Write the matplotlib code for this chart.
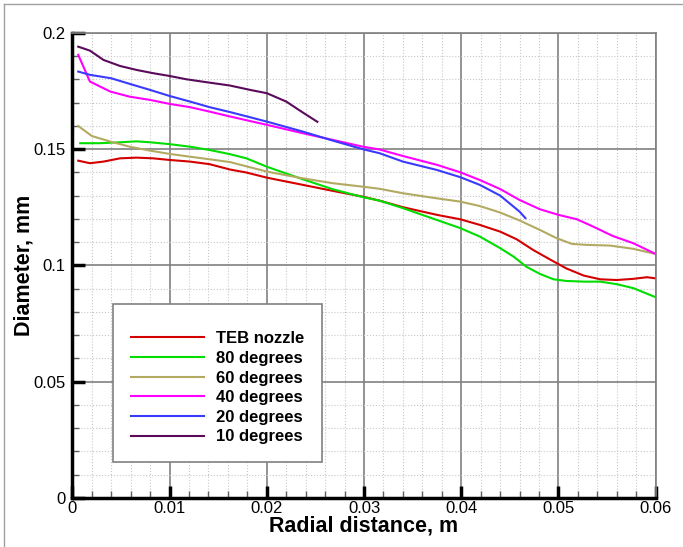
import matplotlib.pyplot as plt
import numpy as np
from matplotlib.lines import Line2D

plt.rcParams['font.family'] = ['Liberation Sans', 'DejaVu Sans']

# TEB nozzle
x_teb = [0.0006, 0.0018, 0.0032, 0.0049, 0.0066, 0.0083, 0.0100, 0.0121, 0.0141, 0.0162,
         0.0179, 0.0200, 0.0237, 0.0268, 0.0299, 0.0316, 0.0340, 0.0375, 0.0399, 0.0419,
         0.0440, 0.0457, 0.0474, 0.0491, 0.0508, 0.0526, 0.0543, 0.0560, 0.0577, 0.0591, 0.0600]
y_teb = [0.1450, 0.1439, 0.1446, 0.1460, 0.1463, 0.1460, 0.1453, 0.1446, 0.1435, 0.1412,
         0.1399, 0.1377, 0.1346, 0.1320, 0.1295, 0.1278, 0.1250, 0.1217, 0.1198, 0.1174,
         0.1145, 0.1112, 0.1066, 0.1026, 0.0987, 0.0956, 0.0940, 0.0937, 0.0942, 0.0949, 0.0944]

# 80 degrees
x_80 = [0.0008, 0.0028, 0.0049, 0.0066, 0.0080, 0.0100, 0.0121, 0.0141, 0.0162, 0.0179,
        0.0200, 0.0237, 0.0268, 0.0299, 0.0316, 0.0340, 0.0375, 0.0399, 0.0419, 0.0440,
        0.0454, 0.0467, 0.0481, 0.0495, 0.0508, 0.0526, 0.0543, 0.0560, 0.0577, 0.0600]
y_80 = [0.1525, 0.1525, 0.1529, 0.1533, 0.1529, 0.1521, 0.1510, 0.1496, 0.1478, 0.1460,
        0.1424, 0.1370, 0.1327, 0.1293, 0.1278, 0.1246, 0.1195, 0.1160, 0.1124, 0.1074,
        0.1037, 0.0994, 0.0963, 0.0940, 0.0933, 0.0930, 0.0930, 0.0919, 0.0902, 0.0863]

# 60 degrees
x_60 = [0.0006, 0.0020, 0.0039, 0.0059, 0.0080, 0.0100, 0.0121, 0.0141, 0.0162, 0.0200,
        0.0237, 0.0268, 0.0299, 0.0316, 0.0340, 0.0375, 0.0399, 0.0419, 0.0440, 0.0460,
        0.0481, 0.0498, 0.0514, 0.0529, 0.0553, 0.0577, 0.0600]
y_60 = [0.1599, 0.1556, 0.1532, 0.1510, 0.1493, 0.1479, 0.1467, 0.1456, 0.1444, 0.1403,
        0.1374, 0.1353, 0.1338, 0.1329, 0.1310, 0.1288, 0.1274, 0.1255, 0.1227, 0.1193,
        0.1152, 0.1117, 0.1092, 0.1088, 0.1085, 0.1071, 0.1049]

# 40 degrees
x_40 = [0.0006, 0.0018, 0.0039, 0.0059, 0.0080, 0.0100, 0.0121, 0.0141, 0.0162, 0.0200,
        0.0237, 0.0268, 0.0299, 0.0316, 0.0340, 0.0375, 0.0399, 0.0419, 0.0440, 0.0460,
        0.0481, 0.0500, 0.0519, 0.0536, 0.0556, 0.0577, 0.0600]
y_40 = [0.1905, 0.1790, 0.1747, 0.1725, 0.1711, 0.1694, 0.1680, 0.1661, 0.1640, 0.1604,
        0.1568, 0.1539, 0.1510, 0.1498, 0.1470, 0.1432, 0.1400, 0.1367, 0.1328, 0.1281,
        0.1241, 0.1217, 0.1198, 0.1166, 0.1126, 0.1095, 0.1049]

# 20 degrees
x_20 = [0.0006, 0.0018, 0.0040, 0.0059, 0.0080, 0.0100, 0.0121, 0.0141, 0.0162, 0.0200,
        0.0237, 0.0268, 0.0299, 0.0316, 0.0340, 0.0375, 0.0399, 0.0419, 0.0440, 0.0460, 0.0466]
y_20 = [0.1833, 0.1819, 0.1804, 0.1780, 0.1754, 0.1728, 0.1704, 0.1680, 0.1659, 0.1618,
        0.1575, 0.1536, 0.1499, 0.1482, 0.1446, 0.1410, 0.1379, 0.1346, 0.1300, 0.1231, 0.1203]

# 10 degrees
x_10 = [0.0006, 0.0018, 0.0032, 0.0049, 0.0066, 0.0083, 0.0100, 0.0117, 0.0135, 0.0162,
        0.0183, 0.0200, 0.0220, 0.0237, 0.0252]
y_10 = [0.1940, 0.1923, 0.1883, 0.1857, 0.1840, 0.1826, 0.1814, 0.1800, 0.1789, 0.1773,
        0.1754, 0.1740, 0.1704, 0.1657, 0.1617]

labels = ['TEB nozzle', '80 degrees', '60 degrees', '40 degrees', '20 degrees', '10 degrees']
colors = ['#d40000', '#00dd00', '#b3aa62', '#ff00ff', '#3a3aff', '#5a0a5a']

fig = plt.figure(figsize=(6.83, 5.47), dpi=100)
ax = fig.add_axes([0.106, 0.0896, 0.854, 0.8506])

series = [(x_teb, y_teb), (x_80, y_80), (x_60, y_60), (x_40, y_40), (x_20, y_20), (x_10, y_10)]
for (xs, ys), lab, c in zip(series, labels, colors):
    ax.plot(xs, ys, color=c, lw=1.5, label=lab)

ax.set_xlim(0, 0.06)
ax.set_ylim(0, 0.2)
ax.set_xticks(np.arange(0, 0.061, 0.01))
ax.set_yticks(np.arange(0, 0.201, 0.05))
ax.set_xticks(np.arange(0, 0.0601, 0.002), minor=True)
ax.set_yticks(np.arange(0, 0.2001, 0.01), minor=True)
ax.set_xticklabels(['0', '0.01', '0.02', '0.03', '0.04', '0.05', '0.06'])
ax.set_yticklabels(['0', '0.05', '0.1', '0.15', '0.2'])

ax.grid(True, which='major', color='#808080', lw=1.2, ls='-')
ax.grid(True, which='minor', color='#c8c8c8', lw=0.8, ls=':')
ax.set_axisbelow(True)

ax.tick_params(which='major', direction='in', length=9, width=2.5, labelsize=12, pad=5)
ax.tick_params(axis='x', which='major', pad=2)
ax.tick_params(which='minor', direction='in', length=5, width=1, color='#606060')
for s in ['left', 'bottom']:
    ax.spines[s].set_linewidth(2.5)
    ax.spines[s].set_color('black')
for s in ['top', 'right']:
    ax.spines[s].set_linewidth(1.2)
    ax.spines[s].set_color('#808080')

ax.set_xlabel('Radial distance, m', fontsize=15.5, fontweight='bold', labelpad=0)
ax.set_ylabel('Diameter, mm', fontsize=15.5, fontweight='bold', labelpad=-1)

leg = ax.legend(loc='upper left', bbox_to_anchor=(113 / 683, 1 - 304 / 547),
                bbox_transform=fig.transFigure, borderaxespad=0, fancybox=False,
                edgecolor='#808080', framealpha=1, prop={'weight': 'bold', 'size': 12},
                title=' ', title_fontsize=4,
                handlelength=4.4, handletextpad=0.72, labelspacing=0.28, borderpad=1.05)
leg.get_frame().set_linewidth(1.2)

# outer frame of the picture
fig.add_artist(Line2D([4 / 683, 4 / 683], [0, 1 - 4 / 547], color='#a0a0a0', lw=1))
fig.add_artist(Line2D([4 / 683, 1], [1 - 4 / 547, 1 - 4 / 547], color='#a0a0a0', lw=1))

plt.savefig('out.png', dpi=100)
